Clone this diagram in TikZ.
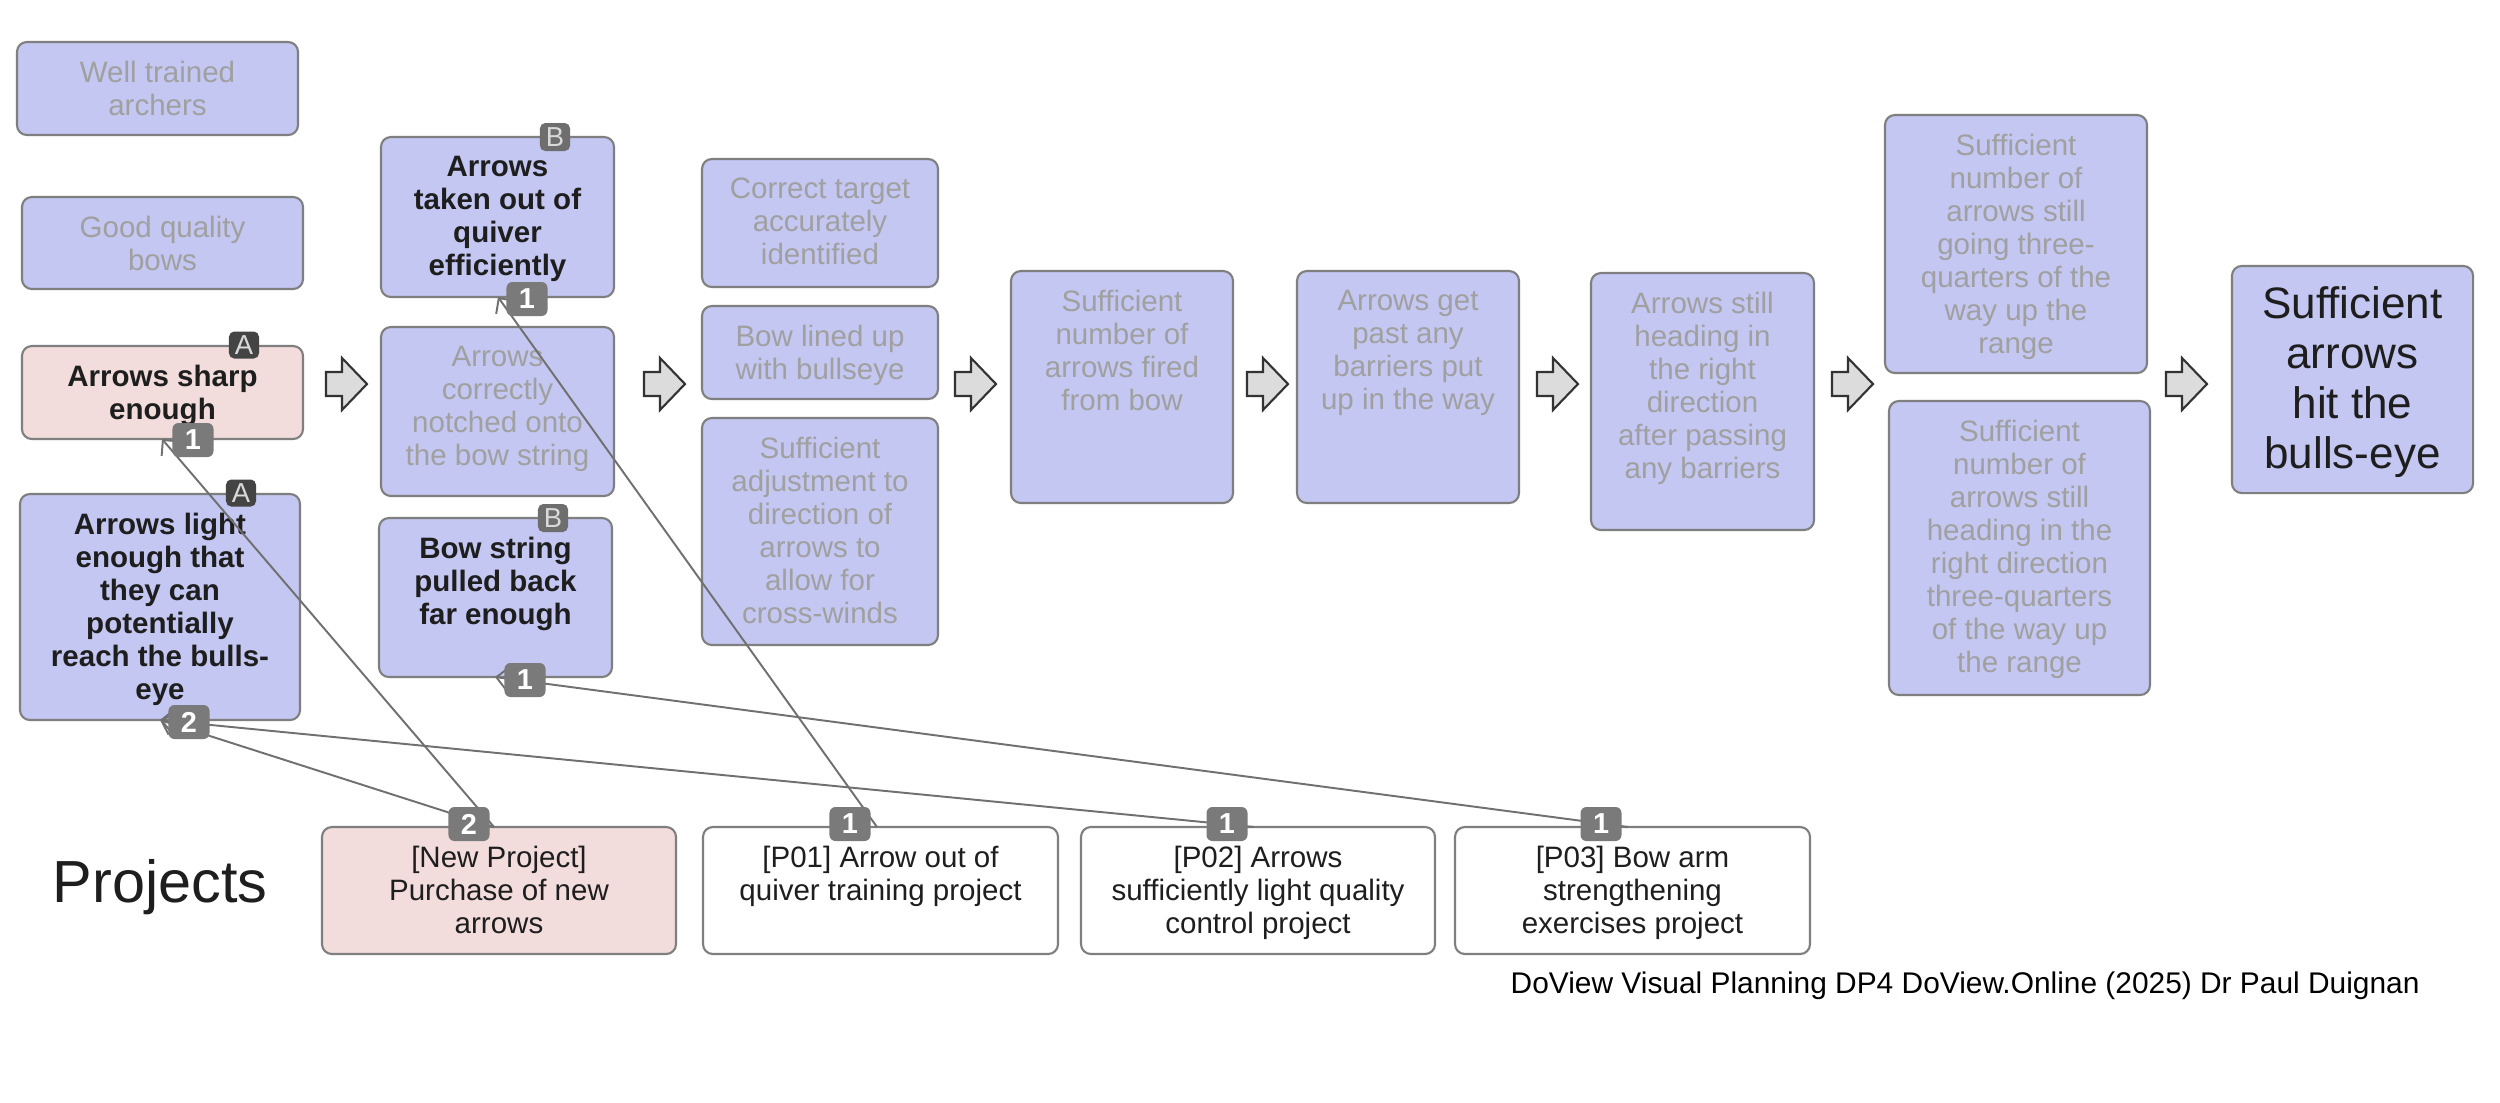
\documentclass[tikz,border=0pt]{standalone}
\usepackage{fontspec}
\setmainfont{Liberation Sans}
\usetikzlibrary{calc,arrows.meta}
\definecolor{boxfill}{HTML}{C3C7F1}
\definecolor{pinkfill}{HTML}{F2DCDC}
\definecolor{boxline}{HTML}{7F7F7F}
\definecolor{graytxt}{HTML}{A0A0A0}
\definecolor{darktxt}{HTML}{1E1E1E}
\definecolor{blkfill}{HTML}{DCDCDC}
\definecolor{blkline}{HTML}{333333}
\definecolor{connline}{HTML}{707070}
\definecolor{numbg}{HTML}{7A7A7A}
\definecolor{abg}{HTML}{444444}
\definecolor{bbg}{HTML}{6E6E6E}
\newcommand\fa{\fontsize{8.39pt}{9.39pt}\selectfont}
\newcommand\ffoot{\fontsize{8.5pt}{9.5pt}\selectfont}
\newcommand\ffinal{\fontsize{12.52pt}{14.23pt}\selectfont}
\newcommand\fproj{\fontsize{16.9pt}{19pt}\selectfont}
\newcommand\fbadge{\fontsize{8.2pt}{8.5pt}\selectfont\bfseries}
\newcommand\fletter{\fontsize{7.8pt}{8pt}\selectfont}
\newcommand\dbox[8]{%
  \node[box,#6,minimum width={(#4-#2)*0.01cm},minimum height={(#5-#3)*0.01cm}] (#1) at ({(#2+#4)/2},{(#3+#5)/2}) {};
  \node[#7,anchor=north] (#1-t) at ($(#1.north)+(0,18.5)$) {#8};}
\tikzset{
  box/.style={draw=boxline, line width=0.6pt, rounded corners=2.8pt, inner sep=0pt, outer sep=0pt},
  lav/.style={fill=boxfill},
  pink/.style={fill=pinkfill},
  white/.style={fill=white},
  gt/.style={font=\fa, text=graytxt, align=center, inner sep=0pt},
  bt/.style={font=\fa\bfseries, text=darktxt, align=center, inner sep=0pt},
  nt/.style={font=\fa, text=darktxt, align=center, inner sep=0pt},
  ft/.style={font=\ffinal, text=darktxt, align=center, inner sep=0pt},
  blkarrow/.style={fill=blkfill, draw=blkline, line width=0.6pt, line join=miter},
  conn/.style={draw=connline, line width=0.55pt, -{Straight Barb[length=3.2pt,width=6.4pt,line width=0.55pt]}},
  numbadge/.style={fill=numbg, rounded corners=1.7pt, minimum width=0.41cm, minimum height=0.34cm, inner sep=0pt, text=white, font=\fbadge},
  abadge/.style={fill=abg, rounded corners=1.5pt, minimum width=0.3cm, minimum height=0.27cm, inner sep=0pt, text=white!85!black, font=\fletter},
  bbadge/.style={fill=bbg, rounded corners=1.5pt, minimum width=0.3cm, minimum height=0.28cm, inner sep=0pt, text=white!85!black, font=\fletter}
}
\begin{document}
\begin{tikzpicture}[x=0.01cm,y=-0.01cm]
\useasboundingbox (0,0) rectangle (2500,1102);
\fill[white] (0,0) rectangle (2500,1102);
% column 1
\dbox{well}{17}{42}{298}{135}{lav}{gt}{Well trained\\archers}
\dbox{good}{22}{197}{303}{289}{lav}{gt}{Good quality\\bows}
\dbox{sharp}{22}{346}{303}{439}{pink}{bt}{Arrows sharp\\enough}
\dbox{light}{20}{494}{300}{720}{lav}{bt}{Arrows light\\enough that\\they can\\potentially\\reach the bulls-\\eye}
% column 2
\dbox{taken}{381}{137}{614}{297}{lav}{bt}{Arrows\\taken out of\\quiver\\efficiently}
\dbox{notched}{381}{327}{614}{496}{lav}{gt}{Arrows\\correctly\\notched onto\\the bow string}
\dbox{bowstr}{379}{518}{612}{677}{lav}{bt}{Bow string\\pulled back\\far enough}
% column 3
\dbox{target}{702}{159}{938}{287}{lav}{gt}{Correct target\\accurately\\identified}
\dbox{lined}{702}{306}{938}{399}{lav}{gt}{Bow lined up\\with bullseye}
\dbox{adjust}{702}{418}{938}{645}{lav}{gt}{Sufficient\\adjustment to\\direction of\\arrows to\\allow for\\cross-winds}
% later columns
\dbox{fired}{1011}{271}{1233}{503}{lav}{gt}{Sufficient\\number of\\arrows fired\\from bow}
\dbox{past}{1297}{271}{1519}{503}{lav}{gt}{Arrows get\\past any\\barriers put\\up in the way}
\dbox{heading}{1591}{273}{1814}{530}{lav}{gt}{Arrows still\\heading in\\the right\\direction\\after passing\\any barriers}
\dbox{threeq}{1885}{115}{2147}{373}{lav}{gt}{Sufficient\\number of\\arrows still\\going three-\\quarters of the\\way up the\\range}
\dbox{rightdir}{1889}{401}{2150}{695}{lav}{gt}{Sufficient\\number of\\arrows still\\heading in the\\right direction\\three-quarters\\of the way up\\the range}
\node[box,lav,minimum width=2.41cm,minimum height=2.27cm] (final) at (2352.5,379.5) {};
\node[ft,anchor=north] (final-t) at ($(final.north)+(0,20)$) {Sufficient\\arrows\\hit the\\bulls-eye};
% projects
\node[font=\fproj, text=darktxt, anchor=base, inner sep=0pt] (projlbl) at (160,902) {Projects};
\dbox{np}{322}{827}{676}{954}{pink}{nt}{[New Project]\\Purchase of new\\arrows}
\dbox{pa}{703}{827}{1058}{954}{white}{nt}{[P01] Arrow out of\\quiver training project}
\dbox{pb}{1081}{827}{1435}{954}{white}{nt}{[P02] Arrows\\sufficiently light quality\\control project}
\dbox{pc}{1455}{827}{1810}{954}{white}{nt}{[P03] Bow arm\\strengthening\\exercises project}
\node[font=\ffoot, text=black, anchor=base west, inner sep=0pt] (footer) at (1510,993) {DoView Visual Planning DP4 DoView.Online (2025) Dr Paul Duignan};
% block arrows
\foreach \bx in {326,644,955,1247,1537,1832,2166}{
  \draw[blkarrow] (\bx,372) -- ++(16,0) -- ++(0,-14) -- ++(25,26) -- ++(-25,26) -- ++(0,-14) -- ++(-16,0) -- cycle;
}
% connector end points
\coordinate (np-o) at (494,827);
\coordinate (pa-o) at (877,827);
\coordinate (pb-o) at (1254,827);
\coordinate (pc-o) at (1628,827);
\coordinate (sharp-i) at (162,439);
\coordinate (light-i) at (160,720);
\coordinate (taken-i) at (498,297);
\coordinate (bowstr-i) at (495,677);
\draw[conn] (np-o) -- (sharp-i);
\draw[conn] (np-o) -- (light-i);
\draw[conn] (pa-o) -- (taken-i);
\draw[conn] (pb-o) -- (light-i);
\draw[conn] (pc-o) -- (bowstr-i);
% badges
\node[abadge] (bA1) at (244,345) {A};
\node[abadge] (bA2) at (241,493) {A};
\node[bbadge] (bB1) at (555,137) {B};
\node[bbadge] (bB2) at (553,518) {B};
\node[numbadge] (n1) at (193,440) {1};
\node[numbadge] (n2) at (189,722) {2};
\node[numbadge] (n3) at (527,299) {1};
\node[numbadge] (n4) at (525,680) {1};
\node[numbadge] (n5) at (469,824) {2};
\node[numbadge] (n6) at (850,824) {1};
\node[numbadge] (n7) at (1227,824) {1};
\node[numbadge] (n8) at (1601,824) {1};
\end{tikzpicture}
\end{document}
